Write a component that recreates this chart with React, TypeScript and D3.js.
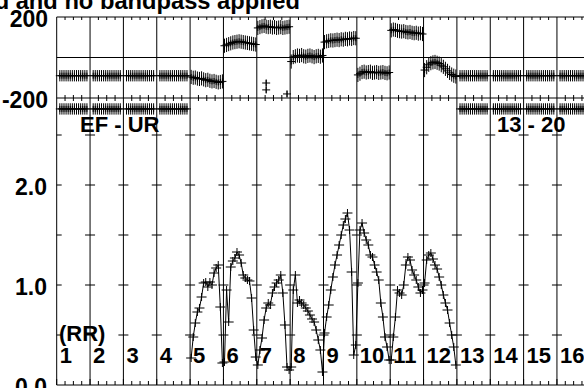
import React, { useEffect } from 'react';
import * as d3 from 'd3';

const W = 584;
const H = 388;
const FONT = "'Liberation Sans', Arial, Helvetica, sans-serif";

const titleText = 'Uncalibrated and no bandpass applied';
const colLabels = ['1', '2', '3', '4', '5', '6', '7', '8', '9', '10', '11', '12', '13', '14', '15', '16'];
const phaseTickVals = [200, -200];
const phaseTickLabels = ['200', '-200'];
const ampTickVals = [0, 1, 2];
const ampTickLabels = ['0.0', '1.0', '2.0'];
const ampMinorVals = [0.5, 1, 1.5, 2, 2.5];
const leftGroupLabel = 'EF - UR';
const rightGroupLabel = '13 - 20';
const polLabel = '(RR)';

const nCols = 16;
const nChan = 16;
const dataCols = [5, 6, 7, 8, 9, 10, 11, 12];
const flatCols = [1, 2, 3, 4, 13, 14, 15, 16];

// amplitude per channel, columns 5..12
const amp5 = [0.27, 0.48, 0.62, 0.73, 0.77, 0.88, 1.02, 1.03, 0.98, 1.03, 1.0, 1.12, 1.17, 1.2, 0.78, 0.22];
const amp6 = [0.23, 0.95, 0.63, 1.18, 1.24, 1.27, 1.33, 1.3, 1.22, 1.1, 1.07, 1.05, 1.04, 0.87, 0.55, 0.28];
const amp7 = [0.2, 0.35, 0.47, 0.65, 0.77, 0.82, 0.8, 0.92, 0.98, 1.02, 1.05, 1.1, 0.92, 0.6, 0.18, 0.15];
const amp8 = [0.18, 0.95, 1.1, 0.82, 0.85, 0.82, 0.8, 0.77, 0.74, 0.7, 0.66, 0.63, 0.55, 0.45, 0.35, 0.13];
const amp9 = [0.52, 0.68, 0.8, 0.95, 1.08, 1.2, 1.3, 1.4, 1.5, 1.6, 1.66, 1.72, 1.55, 1.13, 0.3, 0.4];
const amp10 = [1.02, 1.55, 1.62, 1.52, 1.45, 1.4, 1.3, 1.28, 1.2, 1.13, 1.05, 0.82, 0.68, 0.48, 0.38, 0.25];
const amp11 = [0.25, 0.48, 0.68, 0.95, 0.92, 0.9, 1.0, 1.2, 1.28, 1.25, 1.15, 1.1, 1.05, 0.98, 0.92, 0.95];
const amp12 = [1.02, 1.25, 1.3, 1.32, 1.26, 1.2, 1.16, 1.08, 1.0, 0.9, 0.82, 0.75, 0.62, 0.5, 0.38, 0.2];
const ampSeries = [amp5, amp6, amp7, amp8, amp9, amp10, amp11, amp12];

// phase per channel (deg), columns 5..12
const ph5 = [-96, -100, -99, -104, -106, -103, -108, -112, -110, -115, -118, -116, -120, -123, -121, -118];
const ph6 = [58, 62, 66, 70, 74, 76, 78, 80, 78, 76, 74, 72, 70, 68, 66, 64];
const ph7 = [146, 150, 154, 156, 152, 150, 152, 148, 150, 146, 148, 150, 146, 148, 150, 152];
const ph8 = [-20, 2, 6, 10, 8, 12, 6, 4, 8, 10, 6, 2, 6, 8, 4, 10];
const ph9 = [76, 80, 82, 85, 84, 86, 88, 86, 90, 88, 92, 90, 94, 92, 96, 95];
const ph10 = [-86, -80, -72, -70, -74, -72, -70, -76, -74, -72, -76, -74, -72, -76, -78, -74];
const ph11 = [134, 138, 136, 132, 130, 128, 130, 126, 124, 126, 122, 120, 122, 118, 120, 116];
const ph12 = [-62, -48, -36, -28, -24, -22, -26, -30, -38, -46, -56, -66, -76, -84, -90, -94];
const phaseSeries = [ph5, ph6, ph7, ph8, ph9, ph10, ph11, ph12];
const phaseErr = 35;

// flat phase rows in columns 1-4 and 13-16 (channels 1..14)
const flatPhaseA = [-90, -90, -90, -90, -90, -90, -90, -90, -90, -90, -90, -90, -90, -90];
const flatPhaseB = [-254, -254, -254, -254, -254, -254, -254, -254, -254, -254, -254, -254, -254, -254];
const flatErr = 28;

// stray phase points
const outCol = [7, 7, 7];
const outChan = [4, 4, 14];
const outVal = [-126, -160, -180];
const outErr = 18;

export default function App() {
  useEffect(() => {
    document.body.style.margin = '0';
    document.body.style.overflow = 'hidden';
  }, []);

  const x = d3.scaleLinear().domain([0, nCols]).range([56.7, 590.3]);
  const yP = d3.scaleLinear().domain([-200, 200]).range([98, 17]);
  const yA = d3.scaleLinear().domain([0, 1]).range([385, 285]);
  const chanX = (col: number, ch: number) => x(col - 1 + (ch + 0.5) / nChan);

  const plus = (cx: number, cy: number, hw: number, hh: number, key: string) => (
    <path key={key} d={`M${cx - hw},${cy}H${cx + hw}M${cx},${cy - hh}V${cy + hh}`} />
  );

  const ampPts: [number, number][] = [];
  dataCols.forEach((c, i) => ampSeries[i].forEach((v, ch) => ampPts.push([chanX(c, ch), yA(v)])));
  const ampLine = d3.line()(ampPts) || '';

  const phPts: { px: number; v: number; e: number }[] = [];
  dataCols.forEach((c, i) => phaseSeries[i].forEach((v, ch) => phPts.push({ px: chanX(c, ch), v, e: phaseErr })));
  flatCols.forEach((c) => {
    flatPhaseA.forEach((v, k) => phPts.push({ px: chanX(c, k + 1), v, e: flatErr }));
    flatPhaseB.forEach((v, k) => phPts.push({ px: chanX(c, k + 1), v, e: flatErr }));
  });
  outVal.forEach((v, k) => phPts.push({ px: chanX(outCol[k], outChan[k]), v, e: outErr }));

  const cols = d3.range(nCols + 1);
  const quarters: number[] = [];
  d3.range(nCols).forEach((c) => [0.25, 0.5, 0.75].forEach((f) => quarters.push(c + f)));

  const txt = { fontFamily: FONT, fontWeight: 700 } as const;

  return (
    <svg width={W} height={H} style={{ position: 'absolute', left: 0, top: 0, display: 'block', background: '#fff' }}>
      <rect x={0} y={0} width={W} height={H} fill="#fff" />
      <g stroke="#000" strokeWidth={1} fill="none">
        {cols.map((c) => (
          <line key={'v' + c} x1={x(c)} x2={x(c)} y1={yP(200)} y2={yA(0)} />
        ))}
        <line x1={x(0)} x2={x(nCols)} y1={yP(200)} y2={yP(200)} />
        <line x1={x(0)} x2={x(nCols)} y1={yP(0)} y2={yP(0)} />
        <line x1={x(0)} x2={x(nCols)} y1={yP(-200)} y2={yP(-200)} />
        <line x1={x(0)} x2={x(nCols)} y1={yA(0)} y2={yA(0)} />
        {quarters.map((q) => (
          <g key={'q' + q}>
            <line x1={x(q)} x2={x(q)} y1={yP(200)} y2={yP(200) + 3} />
            <line x1={x(q)} x2={x(q)} y1={yP(-200) - 3} y2={yP(-200) + 3} />
            <line x1={x(q)} x2={x(q)} y1={yA(0)} y2={yA(0) - 4} />
          </g>
        ))}
        {cols.map((c) => (
          <line key={'vt' + c} x1={x(c)} x2={x(c)} y1={yA(0)} y2={yA(0) - 6} />
        ))}
        {cols.map((c) =>
          ampMinorVals.map((v) => (
            <line key={'h' + c + '_' + v} x1={c === 0 ? x(c) : x(c) - 5} x2={x(c) + 5} y1={yA(v)} y2={yA(v)} />
          ))
        )}
      </g>

      <g stroke="#000" strokeWidth={1} fill="none">
        {phPts.map((p, i) => (
          <g key={'p' + i}>
            <line x1={p.px} x2={p.px} y1={yP(p.v - p.e)} y2={yP(p.v + p.e)} />
            {plus(p.px, yP(p.v), 4, 3, 'pm' + i)}
          </g>
        ))}
      </g>

      <g stroke="#000" strokeWidth={1} fill="none">
        <path d={ampLine} />
        {ampPts.map((p, i) => plus(p[0], p[1], 5, 4, 'a' + i))}
      </g>

      <g style={txt} fill="#000">
        <text x={300} y={9} fontSize={23.7} textAnchor="end">{titleText}</text>
        {phaseTickVals.map((v, i) => (
          <text key={'pt' + v} x={48} y={yP(v) + 9.5} fontSize={23} textAnchor="end">{phaseTickLabels[i]}</text>
        ))}
        {ampTickVals.map((v, i) => (
          <text key={'at' + v} x={47} y={yA(v) + 10} fontSize={23} textAnchor="end">{ampTickLabels[i]}</text>
        ))}
        <text x={80} y={132} fontSize={22}>{leftGroupLabel}</text>
        <text x={497} y={132} fontSize={22}>{rightGroupLabel}</text>
        <text x={59} y={341} fontSize={22}>{polLabel}</text>
        {colLabels.map((l, i) => (
          <text key={'cl' + i} x={x(i) + 3} y={363} fontSize={22}>{l}</text>
        ))}
      </g>
    </svg>
  );
}
